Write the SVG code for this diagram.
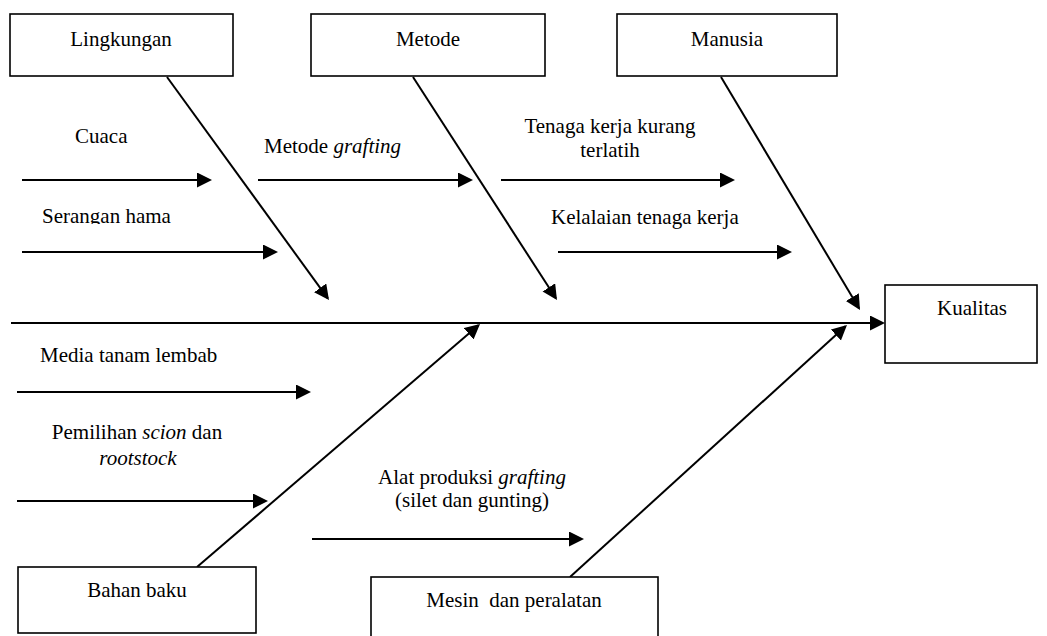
<svg xmlns="http://www.w3.org/2000/svg" width="1047" height="636" viewBox="0 0 1047 636" font-family="'Liberation Serif', 'Times New Roman', Times, serif" font-size="21">
<style>
text{font-family:'Liberation Serif','Times New Roman',Times,serif;font-size:21px;fill:#000}
.box{fill:#fff;stroke:#000;stroke-width:1.6}
.ln{stroke:#000;stroke-width:2;fill:none}
.ar{marker-end:url(#ah)}
.c{text-anchor:middle}
</style>
<defs>
<marker id="ah" markerUnits="userSpaceOnUse" markerWidth="16" markerHeight="16" refX="13" refY="7.5" orient="auto">
<path d="M0,0 L15,7.5 L0,15 z" fill="#000"/>
</marker>
<clipPath id="clipSer"><rect x="0" y="190" width="300" height="34"/></clipPath>
</defs>
<rect width="1047" height="636" fill="#fff"/>

<g id="connectors">
<line class="ln ar" x1="11" y1="323" x2="883" y2="323"/>
<line class="ln ar" x1="167" y1="77" x2="327.8" y2="298.4"/>
<line class="ln ar" x1="413" y1="77" x2="555.9" y2="298.3"/>
<line class="ln ar" x1="721" y1="77" x2="859" y2="308.3"/>
<line class="ln ar" x1="197" y1="567" x2="478.5" y2="325.3"/>
<line class="ln ar" x1="570" y1="577" x2="845.5" y2="326.3"/>
<line class="ln ar" x1="22" y1="180" x2="210" y2="180"/>
<line class="ln ar" x1="258" y1="180" x2="471" y2="180"/>
<line class="ln ar" x1="501" y1="180" x2="733" y2="180"/>
<line class="ln ar" x1="22" y1="252" x2="276" y2="252"/>
<line class="ln ar" x1="558" y1="252" x2="790" y2="252"/>
<line class="ln ar" x1="17" y1="392" x2="309" y2="392"/>
<line class="ln ar" x1="17" y1="501" x2="266" y2="501"/>
<line class="ln ar" x1="312" y1="539" x2="582" y2="539"/>
</g>

<g id="labels">
<text x="75" y="143">Cuaca</text>
<text x="264" y="153">Metode <tspan font-style="italic">grafting</tspan></text>
<text class="c" x="610" y="133">Tenaga kerja kurang</text>
<text class="c" x="610" y="157">terlatih</text>
<text x="42" y="223" clip-path="url(#clipSer)">Serangan hama</text>
<text x="551" y="224">Kelalaian tenaga kerja</text>
<text x="40" y="362">Media tanam lembab</text>
<text class="c" x="137" y="439">Pemilihan <tspan font-style="italic">scion</tspan> dan</text>
<text class="c" x="138" y="465" font-style="italic">rootstock</text>
<text class="c" x="472" y="484">Alat produksi <tspan font-style="italic">grafting</tspan></text>
<text class="c" x="472" y="507">(silet dan gunting)</text>
</g>

<g id="node-lingkungan">
<rect class="box" x="10" y="14" width="223" height="62"/>
<text class="c" x="121" y="46">Lingkungan</text>
</g>
<g id="node-metode">
<rect class="box" x="311" y="14" width="234" height="62"/>
<text class="c" x="428" y="46">Metode</text>
</g>
<g id="node-manusia">
<rect class="box" x="617" y="14" width="220" height="62"/>
<text class="c" x="727" y="46">Manusia</text>
</g>
<g id="node-kualitas">
<rect class="box" x="885" y="285" width="152" height="78"/>
<text class="c" x="972" y="315">Kualitas</text>
</g>
<g id="node-bahan-baku">
<rect class="box" x="18" y="567" width="238" height="66"/>
<text class="c" x="137" y="597">Bahan baku</text>
</g>
<g id="node-mesin">
<rect class="box" x="371" y="577" width="287" height="70"/>
<text class="c" x="514" y="607" xml:space="preserve">Mesin  dan peralatan</text>
</g>
</svg>
